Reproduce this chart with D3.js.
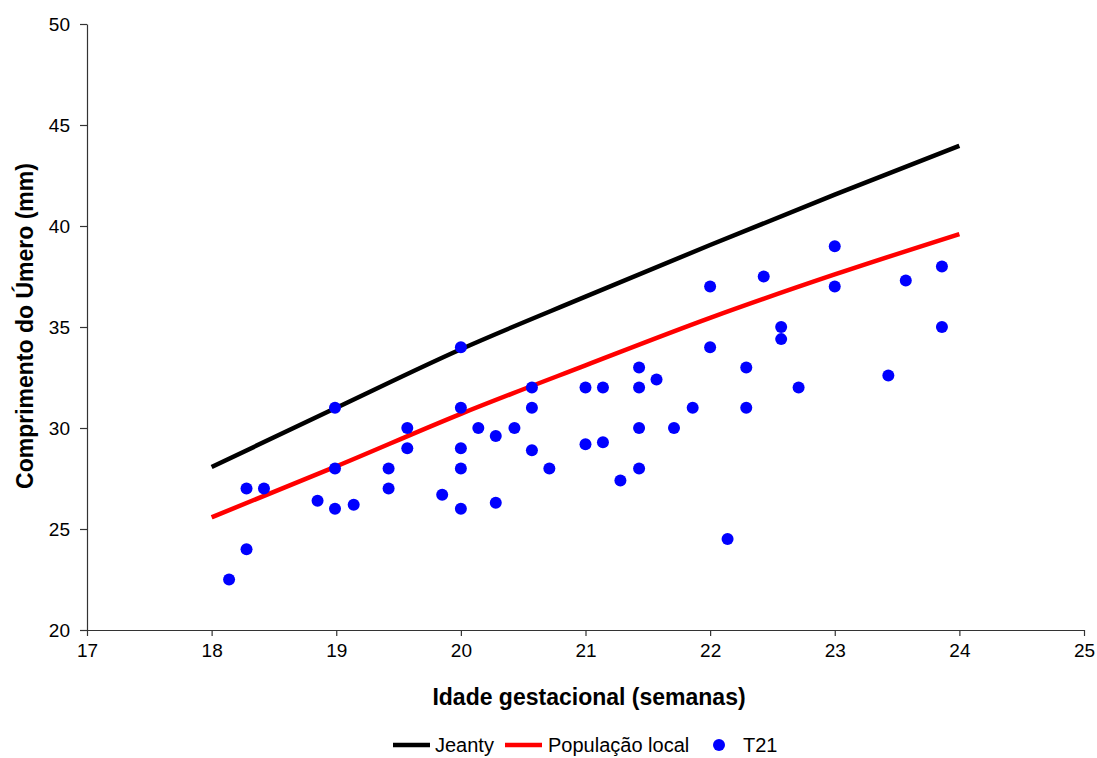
<!DOCTYPE html>
<html>
<head>
<meta charset="utf-8">
<script src="https://cdn.jsdelivr.net/npm/d3@7"></script>
<style>
  body { margin: 0; background: #fff; }
  svg { font-family: "Liberation Sans", Arial, sans-serif; }
</style>
</head>
<body>
<svg id="canvas" width="1097" height="758"></svg>
<script>
// reference curves, read at each week
const weeks = [18, 19, 20, 21, 22, 23, 24];
const jeanty = [28.07, 31.0, 33.9, 36.5, 39.06, 41.55, 43.97];
const local = [25.58, 28.1, 30.7, 33.1, 35.45, 37.6, 39.6];

// T21 cases: gestational age (weeks) and humerus length (mm)
const t21Age = [
  18.14, 18.28, 18.28, 18.42, 18.85, 18.99, 18.99, 18.99, 19.14, 19.42,
  19.42, 19.57, 19.57, 19.85, 20.0, 20.0, 20.0, 20.0, 20.0, 20.14,
  20.28, 20.28, 20.43, 20.57, 20.57, 20.57, 20.71, 21.0, 21.0, 21.14,
  21.14, 21.28, 21.43, 21.43, 21.43, 21.43, 21.57, 21.71, 21.86, 22.0,
  22.0, 22.14, 22.29, 22.29, 22.43, 22.57, 22.57, 22.71, 23.0, 23.0,
  23.43, 23.57, 23.86, 23.86
];
const t21Len = [
  22.5, 24.0, 27.0, 27.0, 26.4, 26.0, 28.0, 31.0, 26.2, 27.0,
  28.0, 29.0, 30.0, 26.7, 26.0, 28.0, 29.0, 31.0, 34.0, 30.0,
  29.6, 26.3, 30.0, 32.0, 31.0, 28.9, 28.0, 32.0, 29.2, 29.3,
  32.0, 27.4, 33.0, 32.0, 30.0, 28.0, 32.4, 30.0, 31.0, 37.0,
  34.0, 24.5, 33.0, 31.0, 37.5, 35.0, 34.4, 32.0, 39.0, 37.0,
  32.6, 37.3, 38.0, 35.0
];

const xTicks = [17, 18, 19, 20, 21, 22, 23, 24, 25];
const yTicks = [20, 25, 30, 35, 40, 45, 50];

const m = { left: 87, top: 24, right: 1084, bottom: 630 };

const svg = d3.select('#canvas');

const x = d3.scaleLinear().domain([17, 25]).range([m.left, m.right]);
const y = d3.scaleLinear().domain([20, 50]).range([m.bottom, m.top]);

const xAxis = svg.append('g')
  .attr('transform', `translate(0,${m.bottom})`)
  .call(d3.axisBottom(x).tickValues(xTicks).tickSize(6).tickSizeOuter(0).tickPadding(8));

const yAxis = svg.append('g')
  .attr('transform', `translate(${m.left},0)`)
  .call(d3.axisLeft(y).tickValues(yTicks).tickSize(7).tickSizeOuter(0).tickPadding(10));

[xAxis, yAxis].forEach(a => {
  a.selectAll('path, line').attr('stroke', '#333').attr('stroke-width', 1.2);
  a.selectAll('text').attr('font-size', 19).attr('fill', '#000')
    .attr('font-family', '"Liberation Sans", Arial, sans-serif');
});

const line = d3.line()
  .x(d => x(d[0]))
  .y(d => y(d[1]))
  .curve(d3.curveMonotoneX);

svg.append('path')
  .datum(weeks.map((w, i) => [w, jeanty[i]]))
  .attr('d', line)
  .attr('fill', 'none')
  .attr('stroke', '#000')
  .attr('stroke-width', 4.5);

svg.append('path')
  .datum(weeks.map((w, i) => [w, local[i]]))
  .attr('d', line)
  .attr('fill', 'none')
  .attr('stroke', '#ff0000')
  .attr('stroke-width', 4.5);

svg.append('g')
  .selectAll('circle')
  .data(t21Age.map((a, i) => [a, t21Len[i]]))
  .join('circle')
  .attr('cx', d => x(d[0]))
  .attr('cy', d => y(d[1]))
  .attr('r', 6)
  .attr('fill', '#0000ff');

// axis titles
svg.append('text')
  .attr('x', 589)
  .attr('y', 705)
  .attr('text-anchor', 'middle')
  .attr('font-size', 23)
  .attr('font-weight', 'bold')
  .text('Idade gestacional (semanas)');

svg.append('text')
  .attr('transform', `translate(33,326) rotate(-90)`)
  .attr('text-anchor', 'middle')
  .attr('font-size', 23)
  .attr('font-weight', 'bold')
  .text('Comprimento do Úmero (mm)');

// legend
const legend = svg.append('g').attr('font-size', 20);
const ly = 745;
legend.append('line').attr('x1', 393).attr('x2', 430).attr('y1', ly).attr('y2', ly)
  .attr('stroke', '#000').attr('stroke-width', 4.5);
legend.append('text').attr('x', 435).attr('y', ly + 7).text('Jeanty');
legend.append('line').attr('x1', 505).attr('x2', 542).attr('y1', ly).attr('y2', ly)
  .attr('stroke', '#ff0000').attr('stroke-width', 4.5);
legend.append('text').attr('x', 548).attr('y', ly + 7).text('População local');
legend.append('circle').attr('cx', 719).attr('cy', ly).attr('r', 6).attr('fill', '#0000ff');
legend.append('text').attr('x', 743).attr('y', ly + 7).text('T21');
</script>
</body>
</html>
